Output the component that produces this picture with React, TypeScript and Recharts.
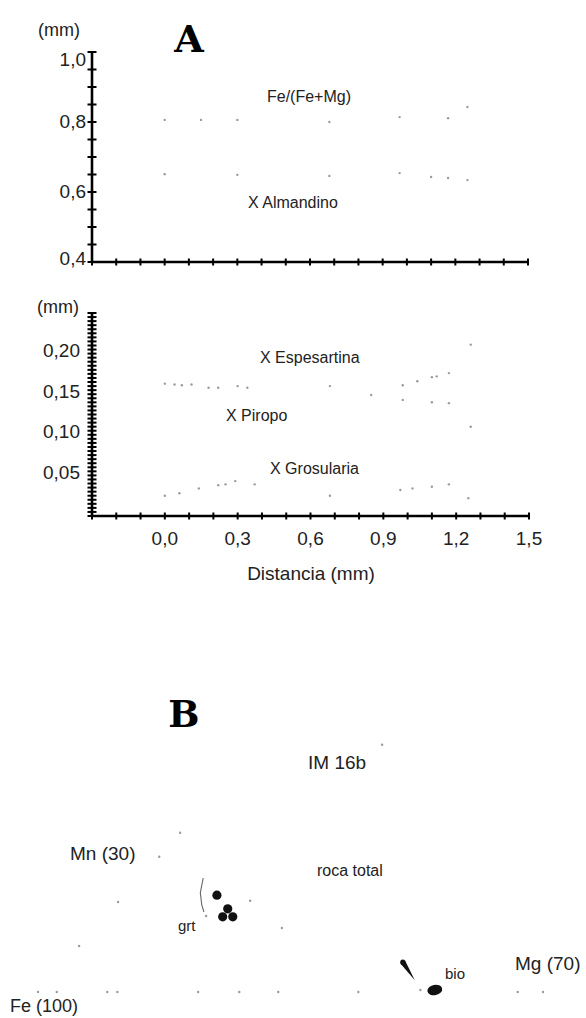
import React from 'react';
import { ScatterChart, Scatter, XAxis, YAxis } from 'recharts';

// ---------- Panel A : distance axis ----------
const X_TICKS = [-0.3, -0.2, -0.1, 0, 0.1, 0.2, 0.3, 0.4, 0.5, 0.6, 0.7, 0.8, 0.9, 1.0, 1.1, 1.2, 1.3, 1.4, 1.5];
const X_LABELS: Record<string, string> = { '0.0': '0,0', '0.3': '0,3', '0.6': '0,6', '0.9': '0,9', '1.2': '1,2', '1.5': '1,5' };

// ---------- Panel A top ----------
const Y_TICKS_TOP = [0.4, 0.45, 0.5, 0.55, 0.6, 0.65, 0.7, 0.75, 0.8, 0.85, 0.9, 0.95, 1.0];
const Y_LABELS_TOP: Record<string, string> = { '0.40': '0,4', '0.60': '0,6', '0.80': '0,8', '1.00': '1,0' };

const FEMG_X = [0.0, 0.15, 0.3, 0.68, 0.97, 1.17, 1.25];
const FEMG_Y = [0.806, 0.806, 0.806, 0.8, 0.814, 0.811, 0.843];

const ALM_X = [0.0, 0.3, 0.68, 0.97, 1.1, 1.17, 1.25];
const ALM_Y = [0.651, 0.649, 0.646, 0.654, 0.643, 0.64, 0.634];

// ---------- Panel A bottom ----------
const Y_TICKS_BOT = [
  0, 0.005, 0.01, 0.015, 0.02, 0.025, 0.03, 0.035, 0.04, 0.045, 0.05, 0.055, 0.06, 0.065, 0.07, 0.075, 0.08,
  0.085, 0.09, 0.095, 0.1, 0.105, 0.11, 0.115, 0.12, 0.125, 0.13, 0.135, 0.14, 0.145, 0.15, 0.155, 0.16, 0.165,
  0.17, 0.175, 0.18, 0.185, 0.19, 0.195, 0.2, 0.205, 0.21, 0.215, 0.22, 0.225, 0.23, 0.235, 0.24, 0.245, 0.25,
];
const Y_LABELS_BOT: Record<string, string> = { '0.050': '0,05', '0.100': '0,10', '0.150': '0,15', '0.200': '0,20' };

const ESP_X = [0.0, 0.04, 0.07, 0.11, 0.18, 0.22, 0.3, 0.34, 0.68, 0.98, 1.04, 1.1, 1.12, 1.17, 1.26];
const ESP_Y = [0.163, 0.162, 0.161, 0.162, 0.158, 0.158, 0.16, 0.158, 0.16, 0.161, 0.166, 0.171, 0.172, 0.176, 0.211];

const PIR_X = [0.85, 0.98, 1.1, 1.17, 1.26];
const PIR_Y = [0.149, 0.143, 0.14, 0.139, 0.11];

const GRO_X = [0.0, 0.06, 0.14, 0.22, 0.25, 0.29, 0.37, 0.68, 0.97, 1.02, 1.1, 1.17, 1.25];
const GRO_Y = [0.025, 0.028, 0.034, 0.038, 0.039, 0.043, 0.039, 0.025, 0.032, 0.034, 0.036, 0.039, 0.022];

// ---------- Panel B (Fe - Mg - Mn section) ----------
const OUTLINE_B_X = [0, 2.6, 9.6, 11.0, 22.2, 27.9, 33.3, 44.4, 66.5, 70.0, 5.7, 11.1, 16.8, 19.7, 47.7, 29.4, 33.8, 53.0, 23.3];
const OUTLINE_B_Y = [0, 0, 0, 0, 0, 0, 0, 0, 0, 0, 5.75, 11.25, 16.9, 19.9, 30.9, 11.4, 8.0, 0.25, 9.5];

const GRT_X = [24.8, 26.3, 25.6, 27.0];
const GRT_Y = [12.1, 10.4, 9.4, 9.4];

const ARC_X = [22.9, 22.5, 22.7, 23.0];
const ARC_Y = [14.25, 12.4, 10.9, 10.0];

const BIO_X = [55.0];
const BIO_Y = [0.25];
const BIO_TREND_X = [51.4];
const BIO_TREND_Y = [2.6];

const zip = (xs: number[], ys: number[]) => xs.map((x, i) => ({ x, y: ys[i] }));

const SANS = '"Liberation Sans", Arial, Helvetica, sans-serif';
const SERIF = '"DejaVu Serif", "Liberation Serif", serif';
const TICK_FONT = 19;

const FaintDot = (p: any) => <circle cx={p.cx} cy={p.cy} r={1.2} fill="#9a9a9a" />;
const BlackDot = (p: any) => <circle cx={p.cx} cy={p.cy} r={4.6} fill="#111" />;
const Nothing = () => <g />;
const BioEllipse = (p: any) => (
  <ellipse cx={p.cx} cy={p.cy} rx={7.5} ry={5.2} fill="#111" transform={`rotate(-12 ${p.cx} ${p.cy})`} />
);
const BioWedge = (p: any) => (
  <g>
    <polygon points={`${p.cx - 8.2},${p.cy - 7.4} ${p.cx - 3.8},${p.cy - 10.6} ${p.cx + 6},${p.cy + 9}`} fill="#111" />
    <circle cx={p.cx - 6} cy={p.cy - 9} r={2.6} fill="#111" />
  </g>
);

const makeYTick = (labels: Record<string, string>, digits: number, gap: number, adjust: (v: number) => number) =>
  (props: any) => {
    const { x, y, payload } = props;
    const v = Number(payload.value);
    const label = labels[v.toFixed(digits)];
    return (
      <g>
        <line x1={x - 4.5} x2={x + 4.5} y1={y} y2={y} stroke="#000" strokeWidth={2} />
        {label ? (
          <text x={x - gap} y={y + adjust(v)} textAnchor="end" dominantBaseline="central"
            fontFamily={SANS} fontSize={TICK_FONT} fill="#222">{label}</text>
        ) : null}
      </g>
    );
  };

const makeXTick = (showLabels: boolean) => (props: any) => {
  const { x, y, payload } = props;
  const v = Number(payload.value);
  const label = showLabels ? X_LABELS[v.toFixed(1)] : undefined;
  return (
    <g>
      <line x1={x} x2={x} y1={y - 3.5} y2={y + 3.5} stroke="#000" strokeWidth={2} />
      {label ? (
        <text x={x} y={y + 22} textAnchor="middle" dominantBaseline="central"
          fontFamily={SANS} fontSize={TICK_FONT} fill="#222">{label}</text>
      ) : null}
    </g>
  );
};

const topYTick = makeYTick(Y_LABELS_TOP, 2, 6, (v) => (v > 0.99 ? 7 : v < 0.41 ? -4 : -1));
const botYTick = makeYTick(Y_LABELS_BOT, 3, 12, () => -3);
const topXTick = makeXTick(false);
const botXTick = makeXTick(true);

const AXIS_LINE = { stroke: '#000', strokeWidth: 2.6 };

const texts: { t: string; x: number; y: number; size: number; anchor?: string; serif?: boolean; color?: string }[] = [
  { t: '(mm)', x: 38, y: 30, size: 18 },
  { t: 'A', x: 189, y: 38, size: 38, anchor: 'middle', serif: true, color: '#000' },
  { t: 'Fe/(Fe+Mg)', x: 267, y: 96, size: 16 },
  { t: 'X Almandino', x: 248, y: 202, size: 16 },
  { t: '(mm)', x: 37, y: 307, size: 18 },
  { t: 'X Espesartina', x: 260, y: 357, size: 16 },
  { t: 'X Piropo', x: 226, y: 415, size: 16 },
  { t: 'X Grosularia', x: 270, y: 468, size: 16 },
  { t: 'Distancia (mm)', x: 311, y: 573, size: 19, anchor: 'middle' },
  { t: 'B', x: 184, y: 714, size: 37, anchor: 'middle', serif: true, color: '#000' },
  { t: 'IM 16b', x: 308, y: 762, size: 19 },
  { t: 'Mn (30)', x: 70, y: 853, size: 19 },
  { t: 'roca total', x: 317, y: 870, size: 16 },
  { t: 'grt', x: 178, y: 925, size: 15 },
  { t: 'bio', x: 445, y: 973, size: 15 },
  { t: 'Mg (70)', x: 515, y: 963, size: 19 },
  { t: 'Fe (100)', x: 10, y: 1006, size: 18 },
];

export default function App() {
  return (
    <div style={{ position: 'absolute', left: 0, top: 0, width: 586, height: 1018, background: '#fff', overflow: 'hidden' }}>
      {/* Panel A - top */}
      <div style={{ position: 'absolute', left: 0, top: 0 }}>
        <ScatterChart width={586} height={280} margin={{ top: 52, right: 58, bottom: 8, left: 32 }}>
          <XAxis type="number" dataKey="x" domain={[-0.3, 1.5]} ticks={X_TICKS} interval={0} height={10}
            axisLine={AXIS_LINE} tickLine={false} tickSize={0} tickMargin={0} tick={topXTick} />
          <YAxis type="number" dataKey="y" domain={[0.4, 1.0]} ticks={Y_TICKS_TOP} interval={0} width={60}
            axisLine={AXIS_LINE} tickLine={false} tickSize={0} tickMargin={0} tick={topYTick} />
          <Scatter data={zip(FEMG_X, FEMG_Y)} shape={FaintDot} isAnimationActive={false} />
          <Scatter data={zip(ALM_X, ALM_Y)} shape={FaintDot} isAnimationActive={false} />
        </ScatterChart>
      </div>

      {/* Panel A - bottom */}
      <div style={{ position: 'absolute', left: 0, top: 280 }}>
        <ScatterChart width={586} height={320} margin={{ top: 33, right: 57, bottom: 44, left: 32 }}>
          <XAxis type="number" dataKey="x" domain={[-0.3, 1.5]} ticks={X_TICKS} interval={0} height={40}
            axisLine={AXIS_LINE} tickLine={false} tickSize={0} tickMargin={0} tick={botXTick} />
          <YAxis type="number" dataKey="y" domain={[0, 0.25]} ticks={Y_TICKS_BOT} interval={0} width={60}
            axisLine={AXIS_LINE} tickLine={false} tickSize={0} tickMargin={0} tick={botYTick} />
          <Scatter data={zip(ESP_X, ESP_Y)} shape={FaintDot} isAnimationActive={false} />
          <Scatter data={zip(PIR_X, PIR_Y)} shape={FaintDot} isAnimationActive={false} />
          <Scatter data={zip(GRO_X, GRO_Y)} shape={FaintDot} isAnimationActive={false} />
        </ScatterChart>
      </div>

      {/* Panel B */}
      <div style={{ position: 'absolute', left: 0, top: 700 }}>
        <ScatterChart width={586} height={318} margin={{ top: 36, right: 43, bottom: 26, left: 38 }}>
          <XAxis type="number" dataKey="x" domain={[0, 70]} hide />
          <YAxis type="number" dataKey="y" domain={[0, 32]} hide />
          <Scatter data={zip(OUTLINE_B_X, OUTLINE_B_Y)} shape={FaintDot} isAnimationActive={false} />
          <Scatter data={zip(ARC_X, ARC_Y)} shape={Nothing} line={{ stroke: '#666', strokeWidth: 1.1 }}
            lineType="joint" isAnimationActive={false} />
          <Scatter data={zip(GRT_X, GRT_Y)} shape={BlackDot} isAnimationActive={false} />
          <Scatter data={zip(BIO_TREND_X, BIO_TREND_Y)} shape={BioWedge} isAnimationActive={false} />
          <Scatter data={zip(BIO_X, BIO_Y)} shape={BioEllipse} isAnimationActive={false} />
        </ScatterChart>
      </div>

      {/* Text labels */}
      <svg width={586} height={1018} style={{ position: 'absolute', left: 0, top: 0, pointerEvents: 'none' }}>
        {texts.map((d, i) => (
          <text key={i} x={d.x} y={d.y} textAnchor={(d.anchor as any) || 'start'} dominantBaseline="central"
            fontFamily={d.serif ? SERIF : SANS} fontWeight={d.serif ? 'bold' : 'normal'}
            fontSize={d.size} fill={d.color || '#222'}>{d.t}</text>
        ))}
      </svg>
    </div>
  );
}
